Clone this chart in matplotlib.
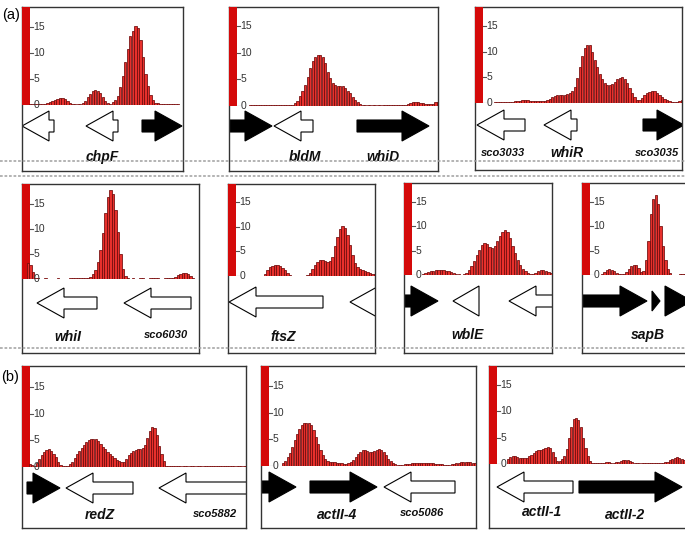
import matplotlib
import numpy as np

matplotlib.use("Agg")
import matplotlib.pyplot as plt  # noqa: E402
from matplotlib.lines import Line2D  # noqa: E402
from matplotlib.patches import Polygon  # noqa: E402

W, H = 685, 536
plt.rcParams["font.family"] = ["Liberation Sans", "DejaVu Sans"]

# ChIP enrichment per probe (fold), left to right, evenly spaced
chpF_profile = [0.2, 0.2, 0.2, 0.2, 0.2, 0.2, 0.2, 0.3, 0.5, 0.8,
                1.0, 1.2, 1.3, 1.3, 1.1, 0.7, 0.4, 0.2, 0.1, 0.1,
                0.1, 0.3, 0.8, 1.5, 2.2, 2.6, 2.8, 2.7, 2.3, 1.6,
                0.8, 0.3, 0.2, 0.5, 0.9, 1.8, 3.4, 5.5, 8.2, 10.8,
                13.2, 14.3, 15.1, 14.8, 12.5, 9.2, 6.0, 3.6, 2.0, 0.9,
                0.4, 0.3, 0.2, 0.2, 0.2, 0.2, 0.2, 0.2, 0.2, 0.2]
bldM_profile = [0.2, 0.2, 0.2, 0.2, 0.2, 0.2, 0.2, 0.2, 0.2, 0.2,
                0.2, 0.2, 0.2, 0.2, 0.2, 0.2, 0.2, 0.2,
                0.5, 1.0, 1.8, 2.8, 4.0, 5.5, 7.2, 8.4, 9.2, 9.5,
                9.6, 9.1, 8.0, 6.4, 5.2, 4.4, 3.9, 3.8, 3.8, 3.7,
                3.4, 2.9, 2.4, 1.7, 1.1, 0.7, 0.4, 0.2, 0.1,
                0.1, 0.1, 0.1, 0.1, 0.1, 0.1, 0.1, 0.1, 0.1, 0.1,
                0.1, 0.1, 0.1, 0.1, 0.1, 0.1,
                0.3, 0.6, 0.8, 0.8, 0.7, 0.6, 0.5, 0.4, 0.3, 0.3,
                0.4, 0.7, 0.8]
whiR_profile = [0.1, 0.1, 0.1, 0.1, 0.1, 0.1, 0.1,
                0.2, 0.3, 0.3, 0.4, 0.5, 0.5, 0.5, 0.4, 0.4, 0.3,
                0.3, 0.3, 0.3, 0.4, 0.6, 0.8, 1.1, 1.4, 1.5, 1.6,
                1.6, 1.6, 1.7, 1.9, 2.3, 3.2, 4.8, 7.0, 9.2, 10.8,
                11.4, 11.4, 10.0, 8.4, 7.0, 5.7, 4.6, 3.9, 3.6, 3.6,
                3.8, 4.2, 4.6, 4.9, 5.0, 4.6, 4.0, 3.0, 2.0, 1.1,
                0.6, 0.6, 1.0, 1.5, 1.9, 2.2, 2.4, 2.3, 2.0, 1.6,
                1.2, 0.8, 0.5, 0.3, 0.2, 0.1, 0.1, 0.3, 0.5]
whiI_profile = [3.3, 2.8, 1.5, 0.3,
                0.2, 0.1, 0.1, 0.2, 0.1, 0.1, 0.1, 0.1, 0.2, 0.1,
                0.1, 0.1, 0.1, 0.2, 0.2, 0.2, 0.3, 0.2, 0.2, 0.2, 0.3,
                0.4, 1.0, 1.9, 3.5, 5.8, 9.3, 13.2, 16.5, 17.8, 17.0,
                13.8, 9.5, 5.0, 2.0, 0.7, 0.2,
                0.1, 0.2, 0.1, 0.1, 0.2, 0.2, 0.1, 0.1, 0.2, 0.2,
                0.2, 0.2, 0.1, 0.1, 0.2, 0.2, 0.2,
                0.3, 0.5, 0.8, 1.0, 1.2, 1.2, 1.0, 0.6, 0.3, 0.1, 0.1]
ftsZ_profile = [0.1, 0.1, 0.1, 0.1, 0.1, 0.1, 0.1, 0.1, 0.1, 0.1, 0.1, 0.1,
                0.5, 1.2, 1.8, 2.1, 2.2, 2.2, 2.0, 1.6, 1.2, 0.7,
                0.3, 0.1, 0.1, 0.1, 0.1, 0.1, 0.1, 0.3, 0.7, 1.4,
                2.2, 2.9, 3.3, 3.2, 3.0, 2.8, 3.0, 3.9, 6.0, 8.0,
                9.5, 10.2, 9.7, 8.3, 6.2, 4.2, 2.6, 1.8, 1.5, 1.3,
                1.1, 0.9, 0.7, 0.5, 0.4]
wblE_profile = [0.2, 0.5, 0.6, 0.8, 0.9, 1.0, 1.0, 1.0, 1.0, 0.9,
                0.8, 0.6, 0.4, 0.3, 0.2, 0.1, 0.2, 0.5, 1.0, 1.8,
                2.8, 4.0, 5.2, 6.2, 6.5, 6.3, 5.8, 5.6, 6.0, 7.0,
                8.0, 8.8, 9.2, 8.7, 7.5, 6.0, 4.5, 3.0, 2.0, 1.3,
                0.8, 0.5, 0.3, 0.3, 0.5, 0.8, 1.0, 1.0, 0.9, 0.7, 0.4]
sapB_profile = [0.3, 0.7, 1.0, 1.2, 1.1, 0.8, 0.5, 0.3, 0.2, 0.3,
                0.6, 1.2, 1.8, 2.1, 2.0, 1.5, 0.7, 0.8, 3.0, 7.0,
                12.5, 15.5, 16.3, 14.5, 10.0, 6.0, 3.0, 1.2, 0.4, 0.1,
                0.1, 0.1, 0.2, 0.3, 0.3]
redZ_profile = [0.5, 0.3, 0.1, 0.8, 1.5, 2.2, 2.8, 3.2, 3.3, 3.0,
                2.5, 1.8, 1.0, 0.4, 0.1, 0.1, 0.2, 0.5, 1.0, 1.6,
                2.4, 3.0, 3.6, 4.2, 4.6, 5.0, 5.2, 5.3, 5.2, 4.8,
                4.4, 3.8, 3.3, 2.8, 2.4, 2.0, 1.7, 1.4, 1.1, 1.0,
                1.0, 1.5, 2.2, 2.7, 3.0, 3.2, 3.3, 3.4, 3.5, 4.2,
                5.5, 6.8, 7.5, 7.4, 6.0, 4.0, 2.5, 1.2, 0.2,
                0.1, 0.1, 0.1, 0.1, 0.1, 0.1, 0.1, 0.1, 0.1, 0.1,
                0.1, 0.1, 0.1, 0.1, 0.1, 0.1, 0.1, 0.1, 0.1, 0.1,
                0.1, 0.1, 0.1, 0.1, 0.1, 0.1, 0.1, 0.1, 0.1, 0.1,
                0.1, 0.1, 0.1, 0.1]
actII4_profile = [0.5, 1.0, 1.6, 2.4, 3.5, 4.8, 6.0, 7.0, 7.6, 8.0,
                  8.1, 8.0, 7.6, 6.8, 5.5, 4.2, 3.0, 2.0, 1.3, 0.9,
                  0.8, 0.7, 0.7, 0.6, 0.6, 0.5, 0.4, 0.4, 0.5, 0.8,
                  1.2, 1.7, 2.2, 2.7, 3.0, 3.0, 2.9, 2.7, 2.6, 2.8,
                  3.0, 3.1, 3.0, 2.6, 2.0, 1.4, 0.9, 0.5, 0.3, 0.2,
                  0.2, 0.2, 0.3, 0.3, 0.4, 0.5, 0.5, 0.5, 0.5, 0.5,
                  0.5, 0.5, 0.5, 0.5, 0.5, 0.4, 0.4, 0.3, 0.3, 0.2,
                  0.2, 0.2, 0.3, 0.4, 0.5, 0.6, 0.7, 0.8, 0.8, 0.8,
                  0.7, 0.6, 0.5]
actII1_profile = [1.0, 1.4, 1.6, 1.5, 1.3, 1.2, 1.1, 1.1, 1.2, 1.5,
                  1.8, 2.1, 2.4, 2.6, 2.7, 2.9, 3.1, 3.2, 3.0, 2.3,
                  1.3, 0.6, 0.6, 1.0, 1.5, 2.8, 5.0, 7.0, 8.5, 8.8,
                  8.3, 7.0, 5.0, 3.0, 1.5, 0.5,
                  0.1, 0.1, 0.1, 0.1, 0.2, 0.2, 0.3, 0.3, 0.2, 0.2,
                  0.3, 0.3, 0.5, 0.7, 0.8, 0.7, 0.5, 0.3,
                  0.2, 0.2, 0.2, 0.2, 0.2, 0.2, 0.2, 0.2, 0.1, 0.1,
                  0.1, 0.2, 0.2,
                  0.3, 0.4, 0.7, 1.0, 1.2, 1.3, 1.2, 1.0, 0.8]

# genes along each locus: (tail, tip, filled[, head half-height])
chpF_genes = [(32, 0, False), (96, 64, False), (120, 160, True)]
bldM_genes = [(-5, 43, True), (84, 45, False), (128, 200, True)]
whiR_genes = [(50, 2, False), (102, 69, False), (168, 209, True)]
whiI_genes = [(75, 15, False), (169, 102, False)]
ftsZ_genes = [(95, 1, False), (149, 122, False)]
wblE_genes = [(-5, 34, True), (75, 49, False), (155, 105, False)]
sapB_genes = [(-5, 65, True), (70, 78, True, 10), (83, 110, True)]
redZ_genes = [(5, 38, True), (111, 44, False), (228, 137, False)]
actII4_genes = [(-5, 35, True), (49, 116, True), (194, 123, False)]
actII1_genes = [(84, 8, False), (90, 193, True)]

# gene names: (x, depth below baseline, text, size)
chpF_labels = [(80, 52, "chpF", 10)]
bldM_labels = [(76, 51, "bldM", 10), (154, 51, "whiD", 10)]
whiR_labels = [(28, 50, "sco3033", 8), (92, 50, "whiR", 10), (182, 50, "sco3035", 8)]
whiI_labels = [(46, 58, "whiI", 10), (144, 56, "sco6030", 8)]
ftsZ_labels = [(55, 61, "ftsZ", 10)]
wblE_labels = [(64, 60, "wblE", 10)]
sapB_labels = [(66, 60, "sapB", 10)]
redZ_labels = [(78, 48, "redZ", 10), (193, 47, "sco5882", 8)]
actII4_labels = [(76, 49, "actII-4", 10), (161, 47, "sco5086", 8)]
actII1_labels = [(53, 48, "actII-1", 10), (136, 51, "actII-2", 10)]

yticks = [0, 5, 10, 15]

RED_W = 8
HEAD_LEN = 27
HEAD_HH = 15
SHAFT_HH = 6

fig = plt.figure(figsize=(W / 100, H / 100), dpi=100)


def draw_panel(box, base, scale, span, arrow_dy, profile, genes, labels):
    L, T, R, B = box
    w, h = R - L, B - T
    frame = fig.add_axes([L / W, 1 - B / H, w / W, h / H])
    frame.set_xlim(0, w)
    frame.set_ylim(h, 0)
    frame.set_xticks([])
    frame.set_yticks([])
    for s in frame.spines.values():
        s.set_color("#333333")
        s.set_linewidth(1.0)

    top = base - T
    prof = fig.add_axes([L / W, 1 - base / H, w / W, top / H], facecolor="none")
    prof.set_xlim(0, w)
    prof.set_ylim(0, top / scale)
    prof.axis("off")
    prof.axvspan(0, RED_W, color="#d40a0a", lw=0)
    xs = np.linspace(span[0], span[1], len(profile))
    step = xs[1] - xs[0]
    prof.bar(xs, profile, width=step * 0.92, color="#e8302c",
             edgecolor="#6e0b0b", linewidth=0.55)
    for t in yticks:
        prof.plot([RED_W, RED_W + 3], [t, t], color="#555555", lw=0.8)
        prof.text(RED_W + 3.5, t, str(t), fontsize=7.5, va="center",
                  ha="left", color="#333333")

    yc = top + arrow_dy
    for g in genes:
        tail, tip, filled = g[:3]
        hh = g[3] if len(g) > 3 else HEAD_HH
        d = 1 if tip > tail else -1
        hl = min(HEAD_LEN, abs(tip - tail))
        bx = tip - d * hl
        if abs(tip - tail) > hl:
            pts = [(tail, yc - SHAFT_HH), (bx, yc - SHAFT_HH), (bx, yc - hh),
                   (tip, yc), (bx, yc + hh), (bx, yc + SHAFT_HH),
                   (tail, yc + SHAFT_HH)]
        else:
            pts = [(bx, yc - hh), (tip, yc), (bx, yc + hh)]
        frame.add_patch(Polygon(pts, closed=True,
                                facecolor="black" if filled else "white",
                                edgecolor="black", lw=0.8))

    for x, dy, txt, size in labels:
        frame.text(x, top + dy, txt, fontsize=size, style="italic",
                   weight="bold", ha="center", va="center", color="#111111")


draw_panel((22, 7, 183, 171), 105, 5.2, (8, 156), 21, chpF_profile, chpF_genes, chpF_labels)
draw_panel((229, 7, 438, 171), 106, 5.33, (21, 209), 20, bldM_profile, bldM_genes, bldM_labels)
draw_panel((475, 7, 682, 170), 103, 5.11, (20, 207), 22, whiR_profile, whiR_genes, whiR_labels)
draw_panel((22, 184, 199, 353), 279, 4.98, (6, 176), 24, whiI_profile, whiI_genes, whiI_labels)
draw_panel((228, 184, 375, 353), 276, 4.93, (7, 147), 26, ftsZ_profile, ftsZ_genes, ftsZ_labels)
draw_panel((404, 183, 552, 353), 275, 4.89, (19, 147), 26, wblE_profile, wblE_genes, wblE_labels)
draw_panel((582, 183, 692, 353), 275, 4.89, (20, 103), 26, sapB_profile, sapB_genes, sapB_labels)
draw_panel((22, 366, 246, 528), 467, 5.33, (8, 224), 21, redZ_profile, redZ_genes, redZ_labels)
draw_panel((261, 366, 476, 528), 466, 5.33, (22, 214), 21, actII4_profile, actII4_genes, actII4_labels)
draw_panel((489, 366, 692, 528), 464, 5.27, (19, 195), 23, actII1_profile, actII1_genes, actII1_labels)

fig.text(2 / W, 1 - 15 / H, "(a)", fontsize=10.5, va="center", ha="left")
fig.text(1 / W, 1 - 377 / H, "(b)", fontsize=10.5, va="center", ha="left")

# scanning streaks across the page
for y in (161, 176, 348):
    fig.add_artist(Line2D([0, 1], [1 - y / H, 1 - y / H], color="#9a9a9a",
                          lw=1.3, ls=(0, (1.5, 1)), alpha=0.8))

fig.savefig("out.png", dpi=100)
